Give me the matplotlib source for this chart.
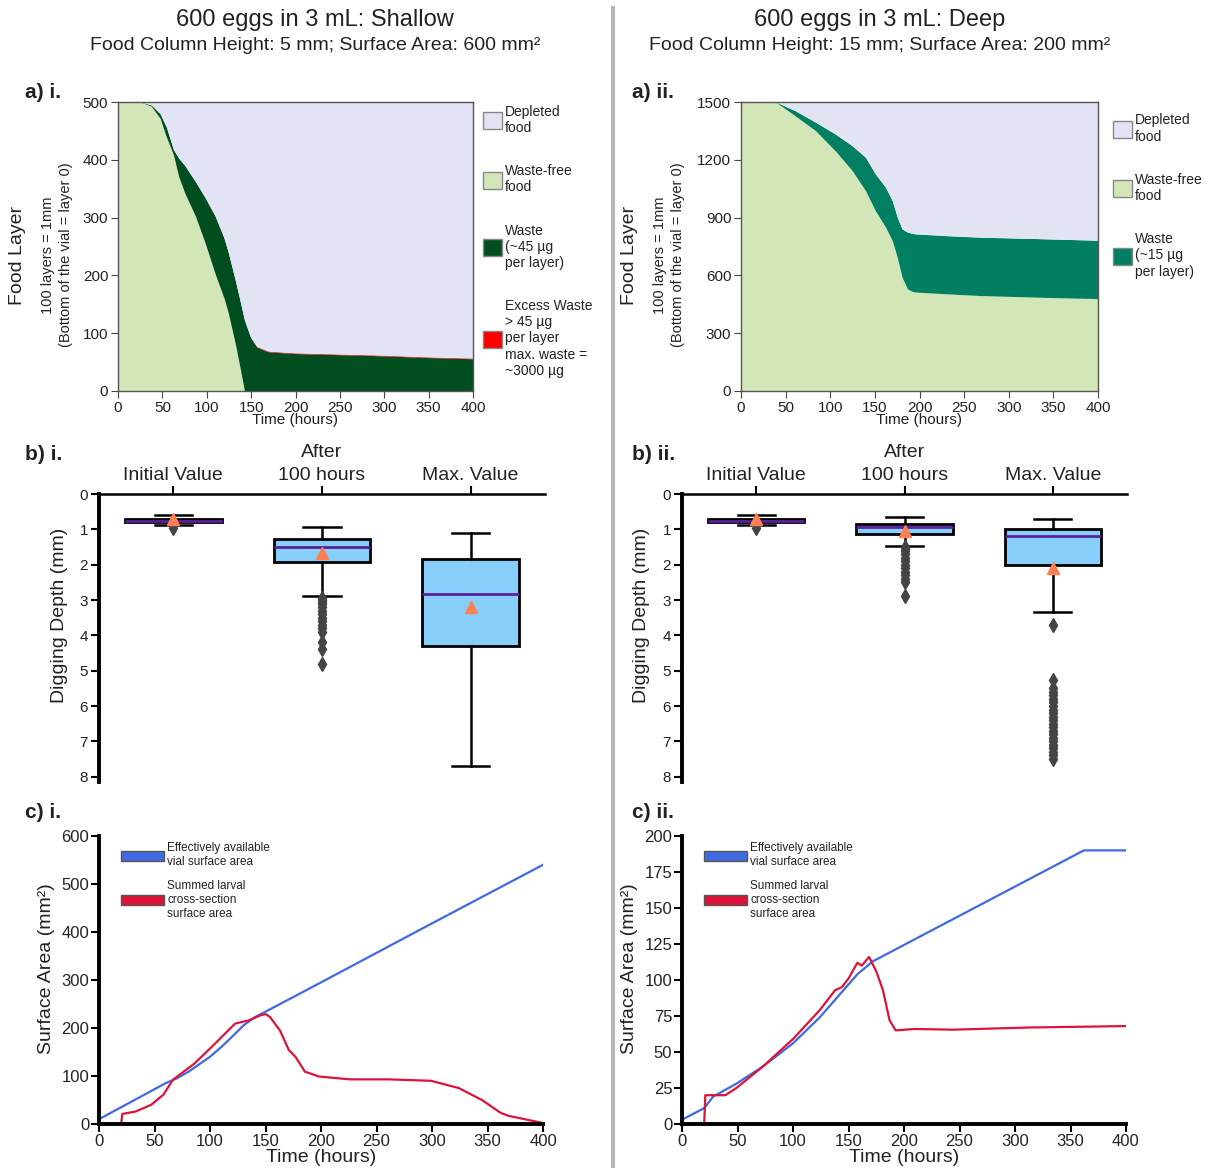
import numpy as np
import matplotlib
matplotlib.use("Agg")
import matplotlib.pyplot as plt
from matplotlib.patches import Patch
from matplotlib.lines import Line2D

plt.rcParams['font.family'] = ['Liberation Sans', 'DejaVu Sans']

# ---- a) i. shallow food layers
t_sh = [0, 25, 38, 48, 55, 63, 69, 76, 88, 99, 110, 120, 125, 133, 138, 143, 150, 157, 170, 200, 250, 300, 350, 400]
free_sh = [500, 500, 492, 471, 439, 408, 370, 341, 301, 254, 202, 160, 133, 79, 40, 0, 0, 0, 0, 0, 0, 0, 0, 0]
top_sh = [500, 500, 494, 479, 456, 417, 402, 389, 361, 333, 302, 264, 238, 189, 156, 122, 92, 75, 67, 64, 62, 60, 57, 55]
excess_sh = [0, 0, 0, 0, 0, 0, 0, 0, 0, 0, 0, 0, 0, 0, 0, 0, 0, 1.2, 1.2, 1.2, 1.2, 1.2, 1.2, 1.2]

# ---- a) ii. deep food layers
t_dp = [0, 38.6, 61, 84, 106, 125, 140, 151, 162.5, 170, 175.6, 181, 187, 192.5, 196, 230, 267.5, 320, 360, 400]
free_dp = [1500, 1500, 1427, 1349, 1245, 1142, 1038, 934, 848, 779, 692, 588, 528, 514, 511, 502, 493, 486, 481, 477]
top_dp = [1500, 1500, 1453, 1393, 1332, 1271, 1211, 1125, 1055, 986, 900, 839, 822, 816, 813, 804, 796, 790, 785, 780]

# ---- b) digging depth box stats
box_labels = ["Initial Value", "After\n100 hours", "Max. Value"]
box_sh = [
    dict(whislo=0.6, q1=0.7, med=0.75, q3=0.8, whishi=0.88, mean=0.72, fliers=[0.97]),
    dict(whislo=0.93, q1=1.28, med=1.5, q3=1.93, whishi=2.88, mean=1.68,
         fliers=[2.95, 3.0, 3.05, 3.1, 3.2, 3.3, 3.4, 3.5, 3.6, 3.7, 3.8, 3.9, 4.2, 4.4, 4.8]),
    dict(whislo=1.1, q1=1.85, med=2.82, q3=4.3, whishi=7.7, mean=3.2, fliers=[]),
]
box_dp = [
    dict(whislo=0.6, q1=0.7, med=0.75, q3=0.8, whishi=0.87, mean=0.72, fliers=[0.97]),
    dict(whislo=0.65, q1=0.85, med=0.93, q3=1.12, whishi=1.48, mean=1.05,
         fliers=[1.5, 1.55, 1.6, 1.7, 1.8, 1.9, 2.0, 2.1, 2.2, 2.3, 2.4, 2.5, 2.9]),
    dict(whislo=0.72, q1=1.0, med=1.2, q3=2.0, whishi=3.33, mean=2.1,
         fliers=[3.7, 5.25, 5.5, 5.6, 5.7, 5.8, 5.9, 6.0, 6.1, 6.2, 6.3, 6.4, 6.5, 6.6,
                 6.7, 6.8, 6.9, 7.0, 7.1, 7.2, 7.3, 7.4, 7.5]),
]

# ---- c) surface areas
tb_sh = [0, 20, 40, 60, 70, 80, 90, 100, 110, 120, 130, 140, 150, 200, 300, 400]
blue_sh = [10, 35, 60, 85, 95, 108, 124, 140, 160, 182, 205, 222, 234, 295, 418, 540]
tr_sh = [20, 21, 33, 47, 58, 66.5, 86, 103, 122.5, 135, 145, 150, 154, 163, 171, 177, 185.5, 198, 226, 261, 299, 324, 345, 362, 369, 400]
red_sh = [0, 21, 26, 40, 61, 92, 126, 164, 209, 216, 226, 229, 223, 195, 154, 140, 109, 99, 93, 93, 90, 75, 50, 23, 17, 2]

tb_dp = [0, 20, 28, 49, 73, 100, 124, 141, 158, 172, 362, 400]
blue_dp = [3, 11, 19, 28, 40, 56, 74, 89, 104, 113, 190, 190]
tr_dp = [20, 21, 39, 49, 73, 100, 124, 138, 144, 150, 158, 162, 168.5, 175, 181, 187, 192.5, 209.5, 244, 312, 400]
red_dp = [0, 20, 20, 25, 40, 59, 79, 93, 95, 101, 112, 110, 116, 106, 93, 72, 65, 66, 65.5, 67, 68]

C_DEPL = '#e3e3f6'
C_FREE = '#d2e6b8'
C_WASTE_SH = '#004d1f'
C_WASTE_DP = '#007f62'
C_EXCESS = '#ff0000'
TXT = '#222222'

W, H = 1207, 1168
fig = plt.figure(figsize=(W / 100, H / 100), dpi=100)


def rect(l, t, r, b):
    return [l / W, 1 - b / H, (r - l) / W, (b - t) / H]


def food_panel(box, t, free, top, total, waste_col, excess, legend_labels, leg_x, leg_y):
    ax = fig.add_axes(box)
    free = np.array(free, float)
    top = np.array(top, float)
    waste = top - free
    layers = [free, waste]
    cols = [C_FREE, waste_col]
    if excess is not None:
        layers.append(np.array(excess, float))
        cols.append(C_EXCESS)
        depl = total - top - np.array(excess, float)
    else:
        depl = total - top
    layers.append(depl)
    cols.append(C_DEPL)
    ax.stackplot(t, *layers, colors=cols, linewidth=0)
    ax.set_xlim(0, 400)
    ax.set_ylim(0, total)
    ax.set_xticks(range(0, 401, 50))
    ax.set_yticks(np.linspace(0, total, 6) if total == 500 else range(0, 1501, 300))
    ax.tick_params(labelsize=11, colors='#444', labelcolor=TXT, length=5, pad=2)
    for s in ax.spines.values():
        s.set_color('#555')
        s.set_linewidth(1)
    ax.set_xlabel("Time (hours)", fontsize=11, labelpad=-1, color=TXT)
    handles = [Patch(facecolor=C_DEPL, edgecolor='#888'), Patch(facecolor=C_FREE, edgecolor='#888'),
               Patch(facecolor=waste_col, edgecolor='#888')]
    if excess is not None:
        handles.append(Patch(facecolor=C_EXCESS, edgecolor='#888'))
    ax.legend(handles, legend_labels, loc='upper left', bbox_to_anchor=(leg_x, leg_y), frameon=False,
              fontsize=10, handlelength=1.35, handleheight=1.5, labelspacing=2.1, handletextpad=0.25,
              borderaxespad=0, borderpad=0.2, labelcolor=TXT)
    return ax


food_panel(rect(118, 102, 473, 391), t_sh, free_sh, top_sh, 500, C_WASTE_SH, excess_sh,
           ["Depleted\nfood", "Waste-free\nfood", "Waste\n(~45 µg\nper layer)",
            "Excess Waste\n> 45 µg\nper layer\nmax. waste =\n~3000 µg"], 1.02, 1.0)
food_panel(rect(741, 102, 1098, 391), t_dp, free_dp, top_dp, 1500, C_WASTE_DP, None,
           ["Depleted\nfood", "Waste-free\nfood", "Waste\n(~15 µg\nper layer)"], 1.034, 0.97)

for x0 in (18, 630):
    fig.text(x0 / W, 1 - 255 / H, "Food Layer", rotation=90, fontsize=14, ha='center', va='center', color=TXT)
    fig.text((x0 + 39) / W, 1 - 255 / H, "100 layers = 1mm\n(Bottom of the vial = layer 0)", rotation=90,
             fontsize=10.5, ha='center', va='center', color=TXT, linespacing=1.4)


def box_panel(box, stats, lab_x):
    ax = fig.add_axes(box)
    ax.bxp(stats, positions=[0, 1, 2], widths=0.65, capwidths=0.25, showmeans=True, patch_artist=True,
           boxprops=dict(facecolor='#87cefa', edgecolor='black', linewidth=2),
           whiskerprops=dict(color='black', linewidth=1.8),
           capprops=dict(color='black', linewidth=1.8),
           medianprops=dict(color='#5a1e9e', linewidth=2),
           meanprops=dict(marker='^', markerfacecolor='#ff7f50', markeredgecolor='#ff7f50', markersize=9),
           flierprops=dict(marker='d', markerfacecolor='#444', markeredgecolor='#444', markersize=7))
    ax.set_xlim(-0.5, 2.5)
    ax.set_ylim(8.15, 0)
    ax.set_yticks(range(0, 9))
    ax.xaxis.tick_top()
    ax.set_xticks([0, 1, 2])
    ax.set_xticklabels(box_labels, fontsize=14, color=TXT, linespacing=1.45)
    ax.tick_params(axis='y', labelsize=11, labelcolor=TXT, length=6, width=1.5, pad=2)
    ax.tick_params(axis='x', length=6, width=1.5, pad=1)
    ax.spines['bottom'].set_visible(False)
    ax.spines['right'].set_visible(False)
    ax.spines['left'].set_linewidth(2.8)
    ax.spines['top'].set_linewidth(1.8)
    ax.set_facecolor('none')
    ax.set_ylabel("Digging Depth (mm)", fontsize=14, color=TXT)
    ax.yaxis.set_label_coords(lab_x, 0.58)
    return ax


box_panel(rect(99, 494, 545, 782), box_sh, -0.07)
box_panel(rect(682, 494, 1127, 782), box_dp, -0.072)


def area_panel(box, tb, blue, tr, red, ymax, ystep):
    ax = fig.add_axes(box)
    ax.plot(tb, blue, color='royalblue', lw=1.6)
    ax.plot(tr, red, color='crimson', lw=1.6)
    ax.set_xlim(0, 400)
    ax.set_ylim(0, ymax)
    ax.set_xticks(range(0, 401, 50))
    ax.set_yticks(range(0, ymax + 1, ystep))
    ax.spines['top'].set_visible(False)
    ax.spines['right'].set_visible(False)
    ax.spines['left'].set_linewidth(2.8)
    ax.spines['bottom'].set_linewidth(2.8)
    ax.tick_params(labelsize=12, labelcolor=TXT, length=6, width=1.5, pad=1)
    ax.set_xlabel("Time (hours)", fontsize=14, labelpad=0, color=TXT)
    ax.set_ylabel("Surface Area (mm²)", fontsize=14, color=TXT)
    ax.yaxis.set_label_coords(-0.099, 0.54)
    handles = [Patch(facecolor='royalblue', edgecolor='#555'), Patch(facecolor='crimson', edgecolor='#555')]
    ax.legend(handles, ["Effectively available\nvial surface area", "Summed larval\ncross-section\nsurface area"],
              loc='upper left', bbox_to_anchor=(0.026, 1.015), frameon=False, fontsize=8.5,
              handlelength=3.6, handleheight=0.9, labelspacing=1.0, handletextpad=0.3, labelcolor=TXT)
    return ax


area_panel(rect(99, 836, 543, 1124), tb_sh, blue_sh, tr_sh, red_sh, 600, 100)
area_panel(rect(682, 836, 1126, 1124), tb_dp, blue_dp, tr_dp, red_dp, 200, 25)

# titles and panel letters
fig.text(315 / W, 1 - 20 / H, "600 eggs in 3 mL: Shallow", ha='center', va='center', fontsize=17, color=TXT)
fig.text(315 / W, 1 - 45 / H, "Food Column Height: 5 mm; Surface Area: 600 mm²", ha='center', va='center',
         fontsize=14, color=TXT)
fig.text(880 / W, 1 - 20 / H, "600 eggs in 3 mL: Deep", ha='center', va='center', fontsize=17, color=TXT)
fig.text(880 / W, 1 - 45 / H, "Food Column Height: 15 mm; Surface Area: 200 mm²", ha='center', va='center',
         fontsize=14, color=TXT)

for lab, x0, y0 in [("a) i.", 25, 92), ("b) i.", 25, 455), ("c) i.", 25, 812),
                    ("a) ii.", 632, 92), ("b) ii.", 632, 455), ("c) ii.", 632, 812)]:
    fig.text(x0 / W, 1 - y0 / H, lab, ha='left', va='center', fontsize=15, fontweight='bold', color=TXT)

fig.add_artist(Line2D([613 / W, 613 / W], [0, 1 - 8 / H], transform=fig.transFigure, color='#b8b8b8', lw=3))

fig.savefig("out.png", dpi=100)
